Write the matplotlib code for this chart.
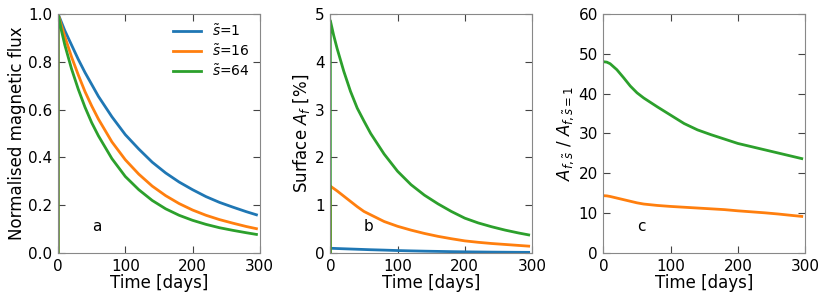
import matplotlib
matplotlib.use("Agg")
import matplotlib.pyplot as plt

# time samples (days)
t = [0, 5, 10, 20, 30, 40, 50, 60, 80, 100, 120, 140, 160, 180, 200, 220, 240, 260, 280, 295]

# panel a: normalised magnetic flux
flux_s1 = [1.0, 0.965, 0.93, 0.87, 0.81, 0.755, 0.705, 0.655, 0.57, 0.495, 0.435, 0.38,
           0.335, 0.297, 0.265, 0.236, 0.212, 0.192, 0.173, 0.16]
flux_s16 = [1.0, 0.95, 0.905, 0.82, 0.745, 0.675, 0.615, 0.56, 0.465, 0.39, 0.33, 0.28,
            0.24, 0.207, 0.18, 0.158, 0.14, 0.125, 0.111, 0.102]
flux_s64 = [1.0, 0.93, 0.87, 0.77, 0.685, 0.61, 0.545, 0.49, 0.395, 0.32, 0.265, 0.22,
            0.185, 0.158, 0.137, 0.12, 0.106, 0.095, 0.085, 0.078]

# panel b: surface A_f [%]
area_s1 = [0.10, 0.098, 0.095, 0.09, 0.085, 0.08, 0.075, 0.07, 0.062, 0.053, 0.046, 0.04,
           0.035, 0.03, 0.026, 0.023, 0.02, 0.018, 0.016, 0.015]
area_s16 = [1.40, 1.35, 1.30, 1.19, 1.08, 0.97, 0.87, 0.80, 0.66, 0.56, 0.48, 0.41,
            0.35, 0.30, 0.255, 0.225, 0.20, 0.18, 0.16, 0.145]
area_s64 = [4.86, 4.55, 4.28, 3.80, 3.38, 3.03, 2.76, 2.50, 2.07, 1.71, 1.43, 1.21,
            1.03, 0.87, 0.73, 0.63, 0.55, 0.48, 0.42, 0.38]

# panel c: ratio to s=1
ratio_s16 = [14.4, 14.35, 14.2, 13.8, 13.4, 13.0, 12.6, 12.3, 11.95, 11.7, 11.5, 11.3,
             11.1, 10.9, 10.6, 10.35, 10.1, 9.8, 9.45, 9.2]
ratio_s64 = [48.0, 47.9, 47.5, 46.0, 44.0, 41.9, 40.2, 38.9, 36.7, 34.6, 32.5, 30.9,
             29.7, 28.6, 27.5, 26.7, 25.9, 25.1, 24.3, 23.7]

labels = [r'$\tilde{s}$=1', r'$\tilde{s}$=16', r'$\tilde{s}$=64']
colors = ['#1f77b4', '#ff7f0e', '#2ca02c']

fig = plt.figure(figsize=(8.3, 3.02), dpi=100)
bottom, height, width = 0.162, 0.792, 0.243
ax_a = fig.add_axes([0.070, bottom, width, height])
ax_b = fig.add_axes([0.398, bottom, width, height])
ax_c = fig.add_axes([0.727, bottom, width, height])

# flux and area start from zero at t=0 (vertical jump at the left edge)
for y, c, lab in zip([flux_s1, flux_s16, flux_s64], colors, labels):
    ax_a.plot([0] + t, [0] + y, color=c, lw=2, label=lab)
for y, c in zip([area_s1, area_s16, area_s64], colors):
    ax_b.plot([0] + t, [0] + y, color=c, lw=2)
ax_c.plot(t, ratio_s16, color=colors[1], lw=2)
ax_c.plot(t, ratio_s64, color=colors[2], lw=2)

ax_a.set_ylim(0, 1)
ax_a.set_yticks([0, 0.2, 0.4, 0.6, 0.8, 1.0])
ax_a.set_ylabel('Normalised magnetic flux', fontsize=12, labelpad=2)
ax_a.legend(loc='upper right', frameon=False, fontsize=10, handlelength=2.0,
            borderaxespad=0.3, labelspacing=0.3)

ax_b.set_ylim(0, 5)
ax_b.set_ylabel(r'Surface $A_f$ [%]', fontsize=12, labelpad=2)

ax_c.set_ylim(0, 60)
ax_c.set_ylabel(r'$A_{f,\tilde{s}}$ / $A_{f,\tilde{s}=1}$', fontsize=12, labelpad=2)

for ax, letter in zip([ax_a, ax_b, ax_c], ['a', 'b', 'c']):
    ax.set_xlim(0, 300)
    ax.set_xticks([0, 100, 200, 300])
    ax.set_xlabel('Time [days]', fontsize=12, labelpad=0)
    ax.tick_params(direction='in', top=True, right=True, length=5,
                   labelsize=11, color='#444444', pad=4)
    for sp in ax.spines.values():
        sp.set_color('#888888')
    ax.text(0.19, 0.11, letter, transform=ax.transAxes, fontsize=11,
            ha='center', va='center')

fig.savefig('out.png', dpi=100)
